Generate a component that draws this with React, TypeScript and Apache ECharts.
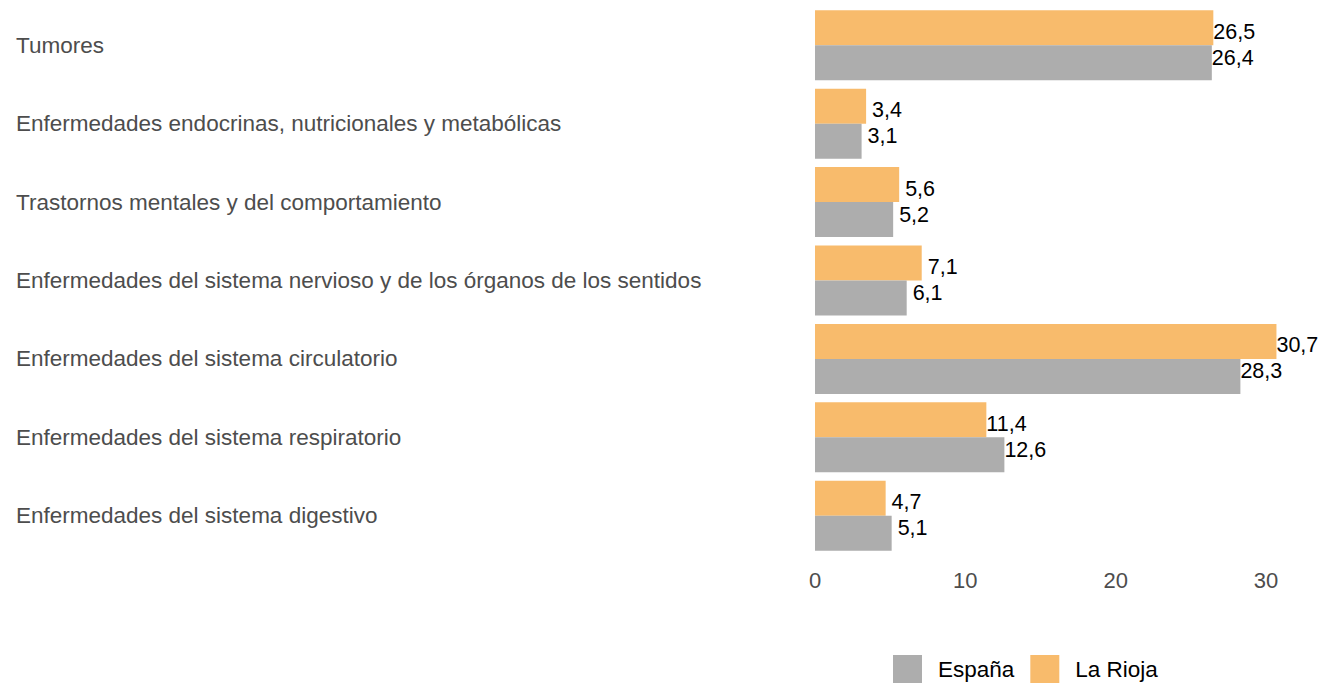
import React, { useEffect, useRef } from "react";
import * as echarts from "echarts";

const categories = [
  "Tumores",
  "Enfermedades endocrinas, nutricionales y metabólicas",
  "Trastornos mentales y del comportamiento",
  "Enfermedades del sistema nervioso y de los órganos de los sentidos",
  "Enfermedades del sistema circulatorio",
  "Enfermedades del sistema respiratorio",
  "Enfermedades del sistema digestivo",
];
const laRioja = [26.5, 3.4, 5.6, 7.1, 30.7, 11.4, 4.7];
const espana = [26.4, 3.1, 5.2, 6.1, 28.3, 12.6, 5.1];
const xTicks = [0, 10, 20, 30];

const FONT = "'Liberation Sans', Arial, sans-serif";

const fmt = (v: number) => {
  const s = v.toFixed(1).replace(".", ",");
  return v < 10 ? " " + s : s;
};

export default function App() {
  const ref = useRef<HTMLDivElement>(null);
  useEffect(() => {
    document.body.style.margin = "0";
    document.body.style.overflow = "hidden";
    if (!ref.current) return;
    const chart = echarts.init(ref.current, null, { renderer: "svg" });
    chart.setOption({
      animation: false,
      textStyle: { fontFamily: FONT },
      grid: { left: 815, top: 6, width: 481, height: 549, containLabel: false },
      legend: {
        data: ["España", "La Rioja"],
        left: 893,
        top: 655,
        padding: 0,
        itemWidth: 29,
        itemHeight: 29,
        itemGap: 16,
        icon: "rect",
        textStyle: { fontSize: 22.5, color: "#000", fontFamily: FONT, padding: [0, 0, 0, 11] },
      },
      xAxis: {
        type: "value",
        min: 0,
        max: 32,
        interval: 10,
        splitLine: { show: false },
        axisLine: { show: false },
        axisTick: { show: false },
        axisLabel: {
          fontSize: 22,
          color: "#4d4d4d",
          margin: 14,
          fontFamily: FONT,
          formatter: (v: number) => (xTicks.includes(v) ? String(v) : ""),
        },
      },
      yAxis: {
        type: "category",
        data: categories,
        inverse: true,
        axisLine: { show: false },
        axisTick: { show: false },
        splitLine: { show: false },
        axisLabel: {
          align: "left",
          margin: 799,
          fontSize: 22.5,
          color: "#4d4d4d",
          fontFamily: FONT,
        },
      },
      series: [
        {
          name: "La Rioja",
          type: "bar",
          data: laRioja,
          barWidth: 35,
          barGap: "0%",
          itemStyle: { color: "#F8BB6C" },
          label: {
            show: true,
            position: "right",
            distance: 0,
            offset: [0, 4],
            fontSize: 21.5,
            color: "#000",
            fontFamily: FONT,
            formatter: (p: any) => fmt(p.value),
          },
        },
        {
          name: "España",
          type: "bar",
          data: espana,
          barWidth: 35,
          barGap: "0%",
          itemStyle: { color: "#ADADAD" },
          label: {
            show: true,
            position: "right",
            distance: 0,
            offset: [0, -5],
            fontSize: 21.5,
            color: "#000",
            fontFamily: FONT,
            formatter: (p: any) => fmt(p.value),
          },
        },
      ],
    });
    return () => chart.dispose();
  }, []);
  return <div ref={ref} style={{ width: 1323, height: 683 }} />;
}
